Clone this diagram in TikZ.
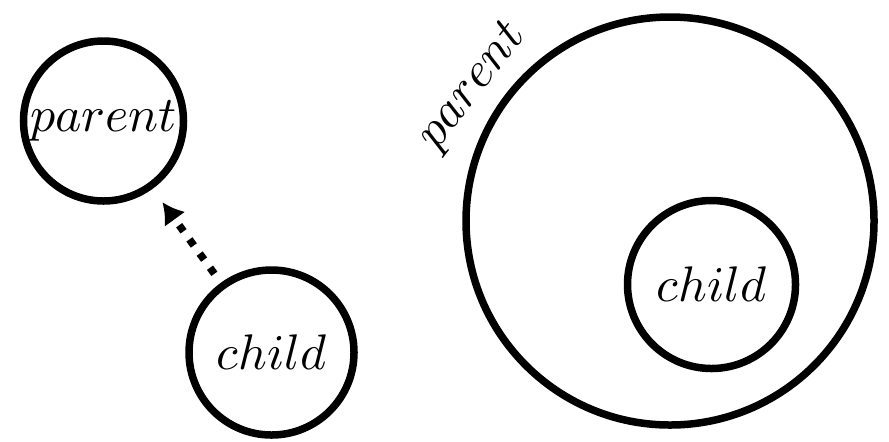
\documentclass[tikz,border=0pt]{standalone}
\usetikzlibrary{arrows.meta}
\begin{document}
\begin{tikzpicture}[x=0.2pt,y=-0.2pt,
  circ/.style={draw, circle, line width=1.5pt, inner sep=0pt},
  link/.style={line width=1.5pt, dotted, -{Latex[length=4.2pt,width=5.2pt]}, shorten <=2.2pt, shorten >=3.3pt}]
\useasboundingbox (0,0) rectangle (889,441);
\node[circ, minimum size=32pt] (p1) at (103.5,121) {$parent$};
\node[circ, minimum size=33pt] (c1) at (271.5,352.5) {$child$};
\draw[link] (c1) -- (p1);
\node[circ, minimum size=81.6pt] (p2) at (670,221) {};
\node[circ, minimum size=33.6pt] (c2) at (711.5,284.5) {$child$};
\node[rotate=52] (lp2) at (473,87) {$parent$};
\end{tikzpicture}
\end{document}
